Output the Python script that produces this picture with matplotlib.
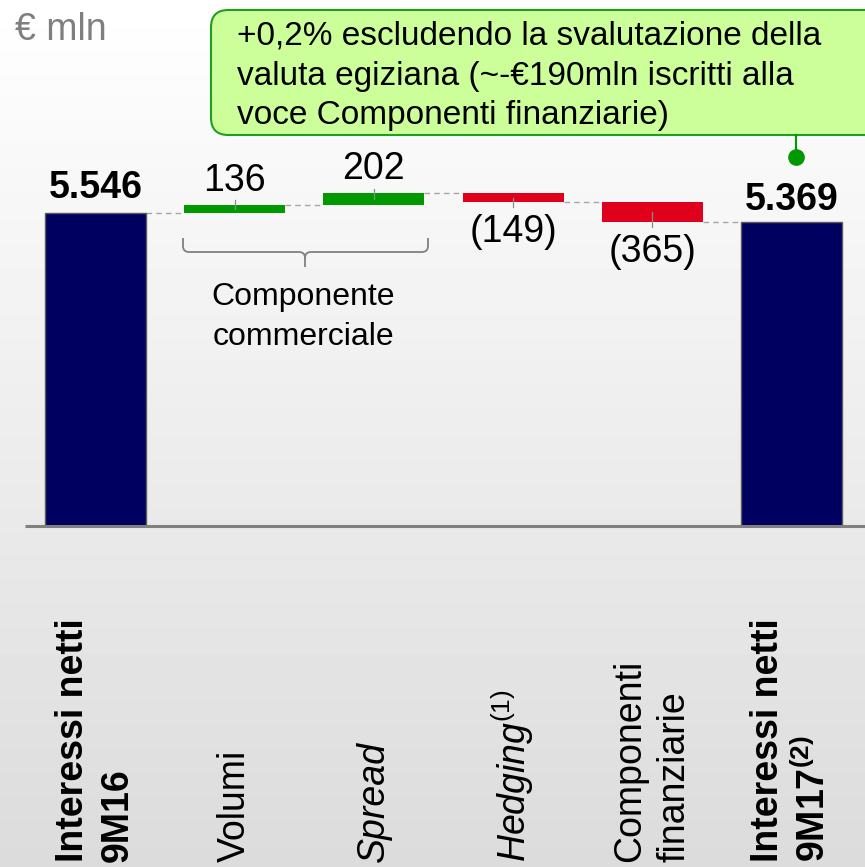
import numpy as np
import matplotlib.pyplot as plt
from matplotlib.patches import FancyBboxPatch, PathPatch
from matplotlib.path import Path

plt.rcParams['font.family'] = 'Liberation Sans'
plt.rcParams['mathtext.fontset'] = 'custom'
plt.rcParams['mathtext.rm'] = 'Liberation Sans'
plt.rcParams['mathtext.it'] = 'Liberation Sans:italic'
plt.rcParams['mathtext.bf'] = 'Liberation Sans:bold'

# waterfall: margine di interesse 9M16 -> 9M17 (€ mln)
categories = ["Interessi netti\n9M16", "Volumi", "Spread",
              "Hedging$^{\\mathrm{(1)}}$", "Componenti\nfinanziarie",
              "Interessi netti\n9M17$^{\\mathbf{(2)}}$"]
start_total = 5546
deltas = [136, 202, -149, -365]
end_total = 5369
value_labels = ["5.546", "136", "202", "(149)", "(365)", "5.369"]
note = ("+0,2% escludendo la svalutazione della\n"
        "valuta egiziana (~-€190mln iscritti alla\n"
        "voce Componenti finanziarie)")

W, H = 865, 867
navy = '#000060'
green = '#009a00'
red = '#e0001b'
grey = '#808080'


def fx(x):
    return x / W


def fy(y):
    return 1 - y / H


fig = plt.figure(figsize=(W / 100, H / 100), dpi=100)

# background gradient
bg = fig.add_axes([0, 0, 1, 1], zorder=0)
grad = np.linspace(1.0, 0.86, 256).reshape(-1, 1)
bg.imshow(grad, cmap='gray', vmin=0, vmax=1, aspect='auto', extent=[0, 1, 0, 1])
bg.axis('off')

base_px = 525.5
ax = fig.add_axes([0, fy(base_px), 1, base_px / H], zorder=1)
ax.patch.set_alpha(0)
x0, step = -95.5 / 139.2, 139.2
ax.set_xlim(x0, x0 + W / step)
ax.set_ylim(0, start_total / (base_px - 212.5) * base_px)
ax.axis('off')

x = np.arange(len(categories))
width = 0.726

# running levels
levels = [start_total]
for d in deltas:
    levels.append(levels[-1] + d)

ax.bar(x[0], start_total, width, color=navy, edgecolor='#5a5a5a', lw=1, zorder=3)
ax.bar(x[-1], end_total, width, color=navy, edgecolor='#5a5a5a', lw=1, zorder=3)

ext = 85
for i, d in enumerate(deltas):
    xi = x[i + 1]
    bottom = min(levels[i], levels[i + 1])
    ax.bar(xi, abs(d), width, bottom=bottom, color=green if d > 0 else red, zorder=3)
    mid = bottom + abs(d) / 2
    if d > 0:
        ax.plot([xi, xi], [bottom + abs(d) + ext, mid], color='#8c8c8c', lw=0.9, zorder=4)
    else:
        ax.plot([xi, xi], [mid, bottom - ext], color='#8c8c8c', lw=0.9, zorder=4)

# dashed connectors
for i in range(len(x) - 1):
    y = levels[i] if i < len(levels) else end_total
    ax.plot([x[i] + width / 2, x[i + 1] - width / 2], [y, y], color='#a6a6a6',
            lw=1, ls=(0, (4, 3)), zorder=2)

# baseline
ax.plot([x0 + 25 / step, x0 + W / step], [0, 0], color=grey, lw=2.2,
        solid_capstyle='butt', clip_on=False, zorder=4)

# value labels
ax.annotate(value_labels[0], (x[0], start_total), xytext=(0, 6), textcoords='offset pixels',
            ha='center', va='bottom', fontsize=27, fontweight='bold')
ax.annotate(value_labels[-1], (x[-1], end_total), xytext=(0, 4), textcoords='offset pixels',
            ha='center', va='bottom', fontsize=27, fontweight='bold')
for i, d in enumerate(deltas):
    lab = value_labels[i + 1]
    if d > 0:
        ax.annotate(lab, (x[i + 1], levels[i + 1]), xytext=(0, 6), textcoords='offset pixels',
                    ha='center', va='bottom', fontsize=27)
    else:
        ax.annotate(lab, (x[i + 1], levels[i + 1]), xytext=(0, -12), textcoords='offset pixels',
                    ha='center', va='top', fontsize=27)

# category labels, rotated
styles = ['normal', 'normal', 'italic', 'italic', 'normal', 'normal']
weights = ['bold', 'normal', 'normal', 'normal', 'normal', 'bold']
for i, lab in enumerate(categories):
    xp = (x[i] - x0) * step
    fig.text(fx(xp), fy(862), lab, rotation=90, ha='center', va='bottom',
             multialignment='left', fontsize=27, fontstyle=styles[i],
             fontweight=weights[i], linespacing=1.3)

# brace under the commercial component
bx0, bx1, bxc = 183, 428, 305
by0, by1, by2 = 238, 252, 267
r = 6
verts = [(bx0, by0), (bx0, by1 - r), (bx0, by1), (bx0 + r, by1),
         (bxc - r, by1), (bxc, by1), (bxc, by1 + r), (bxc, by2),
         (bxc, by1 + r), (bxc, by1), (bxc + r, by1),
         (bx1 - r, by1), (bx1, by1), (bx1, by1 - r), (bx1, by0)]
codes = [Path.MOVETO, Path.LINETO, Path.CURVE3, Path.CURVE3,
         Path.LINETO, Path.CURVE3, Path.CURVE3, Path.LINETO,
         Path.MOVETO, Path.CURVE3, Path.CURVE3,
         Path.LINETO, Path.CURVE3, Path.CURVE3, Path.LINETO]
brace = Path([(fx(a), fy(b)) for a, b in verts], codes)
fig.add_artist(PathPatch(brace, fc='none', ec=grey, lw=1.3, transform=fig.transFigure, zorder=5))
fig.text(fx(303), fy(317), "Componente\ncommerciale", ha='center', va='center',
         fontsize=23, linespacing=1.4, zorder=5)

# unit label
fig.text(fx(15), fy(30), "€ mln", ha='left', va='center', fontsize=27, color='#7f7f7f')

# callout
box = FancyBboxPatch((fx(211), fy(135)), fx(920) - fx(211), (135 - 10) / H,
                     boxstyle="round,pad=0,rounding_size=0.02",
                     fc='#ccff99', ec='#1f9f1f', lw=1.5, transform=fig.transFigure, zorder=5)
fig.add_artist(box)
fig.text(fx(237), fy(76), note, ha='left', va='center', fontsize=24,
         linespacing=1.37, zorder=6)
fig.add_artist(plt.Line2D([fx(796), fx(796)], [fy(135), fy(157)], color='#009900', lw=1.5,
                          transform=fig.transFigure, zorder=6))
fig.add_artist(plt.Line2D([fx(796)], [fy(157)], marker='o', ms=11, color='#009900',
                          transform=fig.transFigure, zorder=6))

fig.savefig('out.png', dpi=100)
